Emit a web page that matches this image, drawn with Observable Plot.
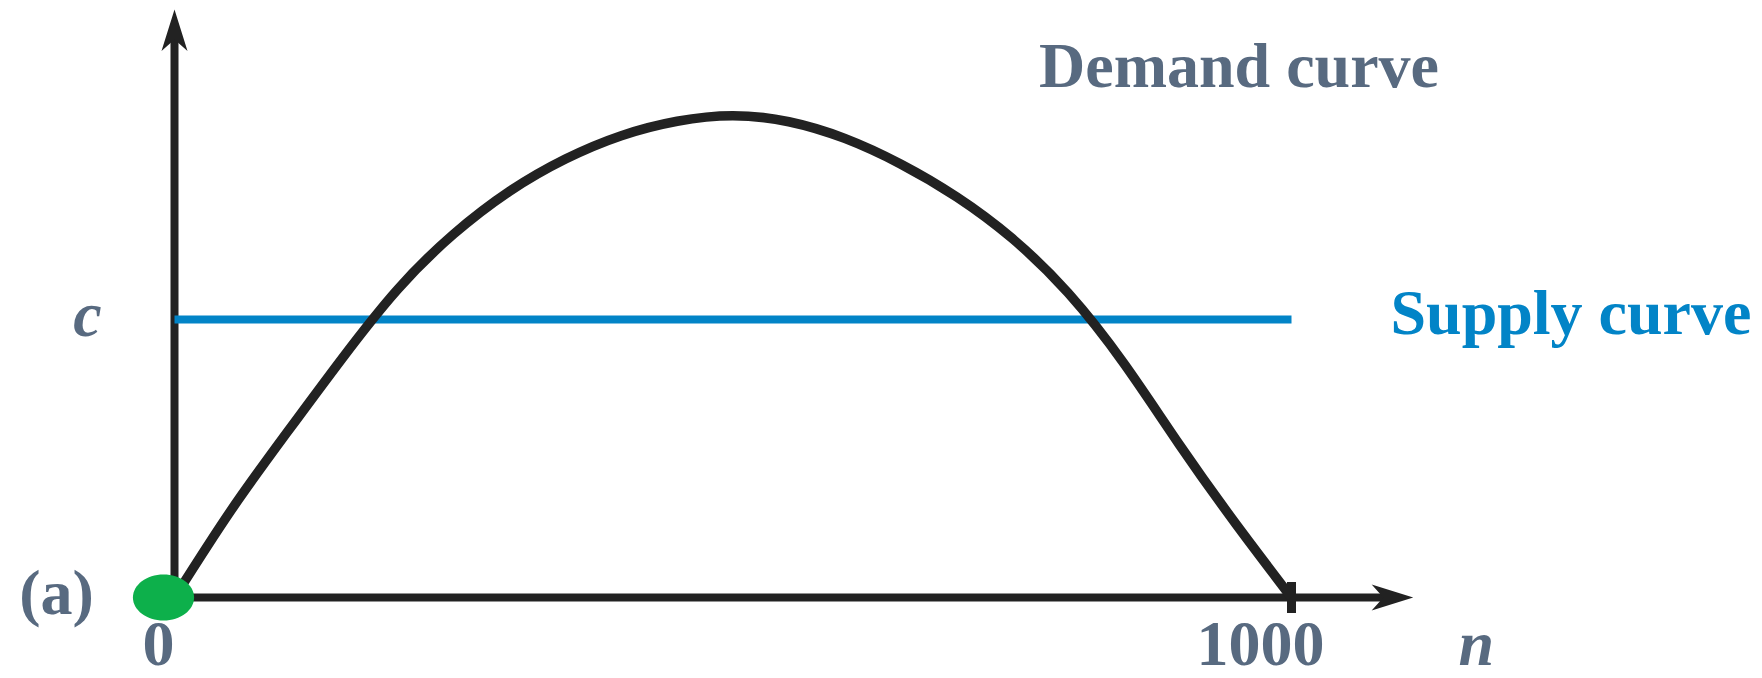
<!DOCTYPE html>
<html>
<head>
<meta charset="utf-8">
<script src="https://cdn.jsdelivr.net/npm/d3@7"></script>
<script src="https://cdn.jsdelivr.net/npm/@observablehq/plot@0.6"></script>
<style>
  html, body { margin: 0; padding: 0; background: #ffffff; }
  #chart { width: 1762px; height: 678px; }
</style>
</head>
<body>
<div id="chart"></div>
<script>
// ---- data ----
const demandN     = [0, 50, 100, 150, 200, 250, 300, 350, 400, 450, 500, 550, 600, 650, 700, 750, 800, 850, 900, 950, 1000];
const demandValue = [0, 15.5, 29.5, 43.0, 55.5, 65.4, 73.1, 78.9, 83.1, 85.7, 86.7, 85.6, 82.6, 78.0, 72.1, 64.6, 54.8, 42.1, 27.4, 13.3, 0];
const supplyLevel = 50;            // c
const supplyN     = [0, 1000];
const xTickValues = [0, 1000];
const xTickLabels = ["0", "1000"];
const xAxisEnd    = 1109;          // n at the x-arrow tip
const yAxisEnd    = 105.8;         // value at the y-arrow tip
const seriesLabels = ["Demand curve", "Supply curve"];
const panelLabel  = "(a)";
const yLabel      = "c";
const xLabel      = "n";

// ---- derived tables ----
const demand = demandN.map((n, i) => ({n, v: demandValue[i]}));
const supply = supplyN.map(n => ({n, v: supplyLevel}));
const axisLines = [
  {x1: 0, y1: 0, x2: xAxisEnd, y2: 0, rot: 90},
  {x1: 0, y1: 0, x2: 0, y2: yAxisEnd, rot: 0}
];

// ---- custom symbols ----
const arrowHead = {
  draw(ctx, size) {
    const r = Math.sqrt(size / Math.PI);
    ctx.moveTo(0, 0);
    ctx.lineTo(r, 3.2 * r);
    ctx.lineTo(0, 2.3 * r);
    ctx.lineTo(-r, 3.2 * r);
    ctx.closePath();
  }
};
const ellipse = {
  draw(ctx, size) {
    const r = Math.sqrt(size / Math.PI);
    const rx = 1.33 * r, ry = r, k = 0.5523;
    ctx.moveTo(rx, 0);
    ctx.bezierCurveTo(rx, k * ry, k * rx, ry, 0, ry);
    ctx.bezierCurveTo(-k * rx, ry, -rx, k * ry, -rx, 0);
    ctx.bezierCurveTo(-rx, -k * ry, -k * rx, -ry, 0, -ry);
    ctx.bezierCurveTo(k * rx, -ry, rx, -k * ry, rx, 0);
    ctx.closePath();
  }
};
const tickBar = {
  draw(ctx, size) {
    const r = Math.sqrt(size / Math.PI);
    ctx.rect(-4.5, -r, 9, 2 * r);
  }
};

const ink = "#222222";
const textColor = "#586a80";
const blue = "#0284c7";
const green = "#0db04b";
const font = "'Liberation Serif', 'Times New Roman', serif";

const chart = Plot.plot({
  width: 1762,
  height: 678,
  margin: 0,
  x: {type: "linear", domain: [0, 1000], range: [174, 1291], axis: null},
  y: {type: "linear", domain: [0, yAxisEnd], range: [597, 9], axis: null},
  style: {background: "#ffffff", fontFamily: font, overflow: "visible"},
  marks: [
    // axis shafts
    Plot.arrow(axisLines, {x1: "x1", y1: "y1", x2: "x2", y2: "y2", stroke: ink, strokeWidth: 8, headLength: 0, insetEnd: 22, strokeLinecap: "butt"}),
    // axis arrowheads
    Plot.dot(axisLines, {x: "x2", y: "y2", rotate: "rot", symbol: arrowHead, r: 13, fill: ink, stroke: null}),
    // tick at 1000
    Plot.dot([xTickValues[1]], {x: d => d, y: 0, symbol: tickBar, r: 15.5, fill: ink, stroke: null}),
    // supply curve
    Plot.line(supply, {x: "n", y: "v", stroke: blue, strokeWidth: 8, strokeLinecap: "butt"}),
    // demand curve
    Plot.line(demand, {x: "n", y: "v", stroke: ink, strokeWidth: 9.5, curve: "natural", strokeLinecap: "butt", strokeLinejoin: "round"}),
    // origin marker
    Plot.dot([0], {x: d => d, y: 0, dx: -11, symbol: ellipse, r: 23, fill: green, stroke: null}),
    // x tick labels
    Plot.text([xTickValues[0]], {x: d => d, y: 0, text: d => xTickLabels[0], dx: -16, dy: 47, fontSize: 64, fontWeight: "bold", fill: textColor, textAnchor: "middle"}),
    Plot.text([xTickValues[1]], {x: d => d, y: 0, text: d => xTickLabels[1], dx: -31, dy: 47, fontSize: 64, fontWeight: "bold", fill: textColor, textAnchor: "middle"}),
    // axis labels
    Plot.text([xLabel], {x: xAxisEnd, y: 0, text: d => d, dx: 63, dy: 47, fontSize: 64, fontWeight: "bold", fontStyle: "italic", fill: textColor, textAnchor: "middle"}),
    Plot.text([yLabel], {x: 0, y: supplyLevel, text: d => d, dx: -87, dy: -4, fontSize: 64, fontWeight: "bold", fontStyle: "italic", fill: textColor, textAnchor: "middle"}),
    Plot.text([panelLabel], {x: 0, y: 0, text: d => d, dx: -118, dy: -4, fontSize: 64, fontWeight: "bold", fill: textColor, textAnchor: "middle"}),
    // series labels
    Plot.text([seriesLabels[0]], {x: 774, y: 95.5, text: d => d, fontSize: 64, fontWeight: "bold", fill: textColor, textAnchor: "start"}),
    Plot.text([seriesLabels[1]], {x: 1088.6, y: supplyLevel, text: d => d, dy: -6, fontSize: 64, fontWeight: "bold", fill: blue, textAnchor: "start"})
  ]
});
document.getElementById("chart").appendChild(chart);
</script>
</body>
</html>
